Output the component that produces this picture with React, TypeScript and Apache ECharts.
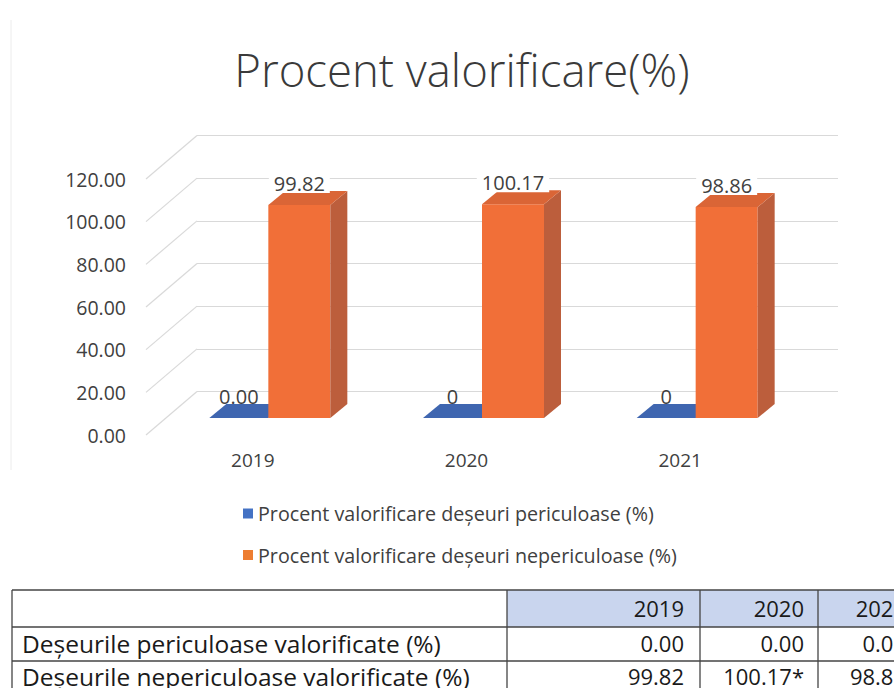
import React, { useEffect, useRef } from "react";
import * as echarts from "echarts";

// ---- data ----
const categories = ["2019", "2020", "2021"];
const yTicks = [0, 20, 40, 60, 80, 100, 120];
const periculoase = [0, 0, 0];
const periculoaseLabels = ["0.00", "0", "0"];
const nepericuloase = [99.82, 100.17, 98.86];
const nepericuloaseNotes = ["", "*", ""];
const seriesNames = [
  "Procent valorificare deșeuri periculoase (%)",
  "Procent valorificare deșeuri nepericuloase (%)",
];
const tableRowNames = [
  "Deșeurile periculoase valorificate (%)",
  "Deșeurile nepericuloase valorificate (%)",
];
const titleText = "Procent valorificare(%)";

// ---- layout / style constants ----
const FONT = "'Open Sans', Lato, 'Noto Sans', sans-serif";
const TXT = "#404040";
const FRONT = { left: 146, top: 179, width: 641, height: 256 };
const WALL_DX = 51;
const WALL_DY = -43.5;
const BAR_SHIFT_X = 19.5; // from floor front edge to bar front
const BAR_SHIFT_Y = -17;
const BAR_DX = 17; // bar depth
const BAR_DY = -14;

const BLUE = { front: "#4470BE", top: "#3F66B0", side: "#34589A", legend: "#4472C4" };
const ORANGE = { front: "#F16F38", top: "#DA6536", side: "#BC5E3C", legend: "#ED7D31" };

function barRenderer(
  offL: number,
  offR: number,
  col: { front: string; top: string; side: string },
  labels: string[],
  labelBg: boolean
) {
  return (params: any, api: any) => {
    const idx = api.value(0);
    const v = api.value(1);
    const base = api.coord([idx, 0]);
    const topP = api.coord([idx, v]);
    const cx = base[0] + BAR_SHIFT_X;
    const x0 = cx + offL;
    const x1 = cx + offR;
    const yb = base[1] + BAR_SHIFT_Y;
    const yt = topP[1] + BAR_SHIFT_Y;
    const children: any[] = [];
    if (yb - yt > 0.5) {
      children.push({
        type: "rect",
        shape: { x: x0, y: yt, width: x1 - x0, height: yb - yt },
        style: { fill: col.front },
      });
      children.push({
        type: "polygon",
        shape: {
          points: [
            [x1, yt],
            [x1 + BAR_DX, yt + BAR_DY],
            [x1 + BAR_DX, yb + BAR_DY],
            [x1, yb],
          ],
        },
        style: { fill: col.side },
      });
    }
    children.push({
      type: "polygon",
      shape: {
        points: [
          [x0, yt],
          [x1, yt],
          [x1 + BAR_DX, yt + BAR_DY],
          [x0 + BAR_DX, yt + BAR_DY],
        ],
      },
      style: { fill: col.top },
    });
    children.push({
      type: "text",
      z2: 10,
      style: {
        text: labels[params.dataIndex],
        x: (x0 + x1) / 2,
        y: yt - 12,
        align: "center",
        verticalAlign: "bottom",
        fontFamily: FONT,
        fontSize: 20,
        fill: TXT,
        backgroundColor: labelBg ? "#ffffff" : "transparent",
        padding: labelBg ? [0, 5, 0, 5] : 0,
      },
    });
    return { type: "group", children };
  };
}

function buildTable(): any[] {
  const els: any[] = [];
  const lineC = "#454545";
  const left = 12;
  const right = 960;
  const rowsY = [590, 627, 661];
  const colsX = [left, 507, 700, 818];
  const valueRight = [684, 804, 906];
  els.push({
    type: "rect",
    shape: { x: 507, y: 590, width: right - 507, height: 37 },
    style: { fill: "#C9D5EE" },
  });
  rowsY.forEach((y) =>
    els.push({
      type: "line",
      shape: { x1: left, y1: y, x2: right, y2: y },
      style: { stroke: lineC, lineWidth: 1.3 },
    })
  );
  colsX.forEach((x) =>
    els.push({
      type: "line",
      shape: { x1: x, y1: 590, x2: x, y2: 700 },
      style: { stroke: lineC, lineWidth: 1.3 },
    })
  );
  const tv = { fontFamily: FONT, fontSize: 22, fill: "#1a1a1a" };
  const tn = { fontFamily: FONT, fontSize: 24.5, fill: "#1a1a1a" };
  categories.forEach((c, i) =>
    els.push({
      type: "text",
      style: { ...tv, text: c, x: valueRight[i], y: 608, align: "right", verticalAlign: "middle" },
    })
  );
  const rows = [
    periculoase.map((v) => v.toFixed(2)),
    nepericuloase.map((v, i) => v.toFixed(2) + nepericuloaseNotes[i]),
  ];
  const rowCy = [643, 676];
  tableRowNames.forEach((name, r) => {
    els.push({
      type: "text",
      style: { ...tn, text: name, x: 22, y: rowCy[r], align: "left", verticalAlign: "middle" },
    });
    rows[r].forEach((t, i) =>
      els.push({
        type: "text",
        style: { ...tv, text: t, x: valueRight[i], y: rowCy[r], align: "right", verticalAlign: "middle" },
      })
    );
  });
  return els;
}

export default function App() {
  const ref = useRef<HTMLDivElement>(null);
  useEffect(() => {
    if (!ref.current) return;
    const chart = echarts.init(ref.current, null, { renderer: "svg" });
    const backGrid = {
      left: FRONT.left + WALL_DX,
      top: FRONT.top + WALL_DY,
      width: FRONT.width,
      height: FRONT.height,
    };
    const option: any = {
      animation: false,
      backgroundColor: "#ffffff",
      title: {
        text: titleText,
        left: 457,
        top: 35,
        textAlign: "center",
        textStyle: {
          fontFamily: FONT,
          fontWeight: 300,
          fontSize: 45.5,
          color: "#3a3a3a",
          lineHeight: 58,
        },
      },
      legend: {
        orient: "vertical",
        left: 243,
        top: 502,
        padding: 0,
        itemGap: 18.5,
        itemWidth: 10,
        itemHeight: 10,
        icon: "rect",
        textStyle: { fontFamily: FONT, fontSize: 19.7, color: TXT, lineHeight: 23 },
        data: [
          { name: seriesNames[0], itemStyle: { color: BLUE.legend } },
          { name: seriesNames[1], itemStyle: { color: ORANGE.legend } },
        ],
      },
      grid: [
        { ...FRONT, containLabel: false },
        { ...backGrid, containLabel: false },
      ],
      xAxis: [
        {
          type: "category",
          gridIndex: 0,
          data: categories,
          axisLine: { show: false },
          axisTick: { show: false },
          axisLabel: { margin: 15, fontFamily: FONT, fontSize: 19, color: TXT },
        },
        { type: "category", gridIndex: 1, data: categories, show: false },
      ],
      yAxis: [
        {
          type: "value",
          gridIndex: 0,
          min: 0,
          max: 120,
          interval: 20,
          axisLine: { show: false },
          axisTick: { show: false },
          splitLine: { show: false },
          axisLabel: {
            margin: 20,
            fontFamily: FONT,
            fontSize: 19.5,
            color: TXT,
            formatter: (v: number) => v.toFixed(2),
          },
        },
        {
          type: "value",
          gridIndex: 1,
          min: 0,
          max: 120,
          interval: 20,
          axisLine: { show: false },
          axisTick: { show: false },
          axisLabel: { show: false },
          splitLine: { show: true, lineStyle: { color: "#d9d9d9", width: 1.2 } },
        },
      ],
      series: [
        {
          type: "custom",
          name: "walls",
          xAxisIndex: 0,
          yAxisIndex: 0,
          z: 1,
          silent: true,
          data: yTicks.map((v) => [0, v]),
          encode: { x: 0, y: 1 },
          renderItem: (params: any, api: any) => {
            const p = api.coord([0, api.value(1)]);
            const x = params.coordSys.x;
            return {
              type: "line",
              shape: { x1: x, y1: p[1], x2: x + WALL_DX, y2: p[1] + WALL_DY },
              style: { stroke: "#d9d9d9", lineWidth: 1.2 },
            };
          },
        },
        {
          type: "custom",
          name: seriesNames[0],
          xAxisIndex: 0,
          yAxisIndex: 0,
          z: 3,
          itemStyle: { color: BLUE.legend },
          data: periculoase.map((v, i) => [i, v]),
          encode: { x: 0, y: 1 },
          renderItem: barRenderer(-63, -4, BLUE, periculoaseLabels, false),
        },
        {
          type: "custom",
          name: seriesNames[1],
          xAxisIndex: 0,
          yAxisIndex: 0,
          z: 4,
          itemStyle: { color: ORANGE.legend },
          data: nepericuloase.map((v, i) => [i, v]),
          encode: { x: 0, y: 1 },
          renderItem: barRenderer(
            -4,
            58,
            ORANGE,
            nepericuloase.map((v) => v.toFixed(2)),
            true
          ),
        },
      ],
      graphic: [
        {
          type: "line",
          shape: { x1: 11, y1: 20, x2: 11, y2: 470 },
          style: { stroke: "#ececec", lineWidth: 1 },
          silent: true,
        },
        ...buildTable(),
      ],
    };
    chart.setOption(option);
    return () => chart.dispose();
  }, []);
  return (
    <div
      ref={ref}
      style={{ position: "absolute", left: 0, top: 0, width: 894, height: 688, background: "#fff" }}
    />
  );
}
